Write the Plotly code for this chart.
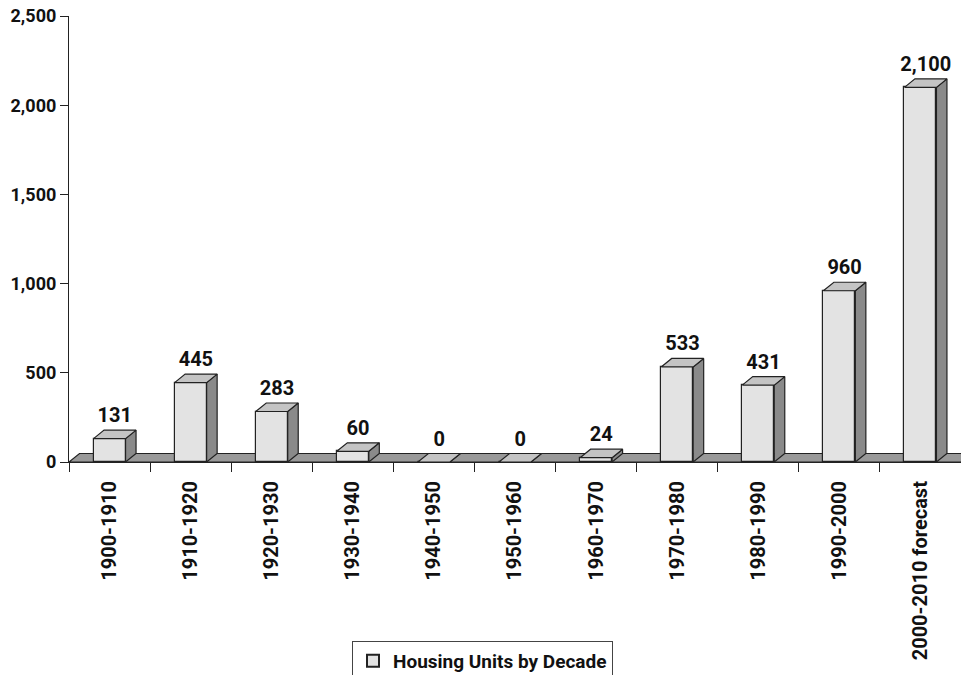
import plotly.graph_objects as go

categories = ["1900-1910", "1910-1920", "1920-1930", "1930-1940", "1940-1950",
              "1950-1960", "1960-1970", "1970-1980", "1980-1990", "1990-2000",
              "2000-2010 forecast"]
units = [131, 445, 283, 60, 0, 0, 24, 533, 431, 960, 2100]
series_name = "Housing Units by Decade"
y_ticks = [0, 500, 1000, 1500, 2000, 2500]

# layout geometry (pixels)
W, H = 961, 675
ML, MR, MT, MB = 69, 0, 16, 213
plot_w = W - ML - MR
plot_h = H - MT - MB
n = len(categories)
x_range = [-0.5, n - 0.5]
y_range = [0, 2500]
px_per_x = plot_w / (x_range[1] - x_range[0])
px_per_y = plot_h / (y_range[1] - y_range[0])

depth_dx = 10.5 / px_per_x      # 3D depth offset, in x units
depth_dy = 8.5 / px_per_y       # 3D depth offset, in y units
bar_w = 32 / px_per_x

FRONT = "#e3e3e3"
TOP = "#c4c4c4"
SIDE = "#8a8a8a"
FLOOR = "#999999"
EDGE = "#222222"
FONT = "Roboto"

xs = list(range(n))

fig = go.Figure()

# front faces
fig.add_trace(go.Bar(
    x=xs, y=units, width=bar_w, name=series_name,
    marker=dict(color=FRONT, line=dict(color=EDGE, width=1.2)),
    hoverinfo="skip", showlegend=True,
))

# side faces
sx, sy = [], []
for x, v in zip(xs, units):
    xr = x + bar_w / 2
    sx += [xr, xr + depth_dx, xr + depth_dx, xr, xr, None]
    sy += [0, depth_dy, v + depth_dy, v, 0, None]
fig.add_trace(go.Scatter(x=sx, y=sy, mode="lines", fill="toself", fillcolor=SIDE,
                         line=dict(color=EDGE, width=1.2), hoverinfo="skip",
                         showlegend=False))

# top faces
tx, ty = [], []
for x, v in zip(xs, units):
    xl = x - bar_w / 2
    xr = x + bar_w / 2
    tx += [xl, xr, xr + depth_dx, xl + depth_dx, xl, None]
    ty += [v, v, v + depth_dy, v + depth_dy, v, None]
fig.add_trace(go.Scatter(x=tx, y=ty, mode="lines", fill="toself", fillcolor=TOP,
                         line=dict(color=EDGE, width=1.2), hoverinfo="skip",
                         showlegend=False))

# value labels
fig.add_trace(go.Scatter(
    x=[x + depth_dx / 2 for x in xs],
    y=[v + depth_dy + 3 / px_per_y for v in units],
    mode="text", text=[f"{v:,}" for v in units], textposition="top center",
    textfont=dict(family=FONT, size=20, color="#111111", weight=700),
    hoverinfo="skip", showlegend=False, cliponaxis=False,
))

# floor
x0, x1 = x_range
fig.add_shape(type="path", xref="x", yref="y", layer="below",
              path=(f"M {x0},0 L {x1},0 L {x1 + depth_dx},{depth_dy} "
                    f"L {x0 + depth_dx},{depth_dy} Z"),
              fillcolor=FLOOR, line=dict(color=EDGE, width=1.2))

fig.update_layout(
    width=W, height=H,
    margin=dict(l=ML, r=MR, t=MT, b=MB, pad=0, autoexpand=False),
    paper_bgcolor="white", plot_bgcolor="white",
    font=dict(family=FONT, size=18, color="#111111", weight=700),
    showlegend=True,
    legend=dict(x=(352 - ML) / plot_w, y=(MT + plot_h - 641) / plot_h,
                xanchor="left", yanchor="top",
                bordercolor="#444444", borderwidth=1, bgcolor="white",
                font=dict(family=FONT, size=19, weight=700),
                itemsizing="constant"),
    xaxis=dict(range=x_range, showgrid=False, zeroline=False, automargin=False,
               showline=True, linecolor=EDGE, linewidth=1.2,
               tickmode="array", tickvals=xs, ticktext=categories,
               ticks="", tickangle=-90, ticklabelstandoff=10,
               tickfont=dict(family=FONT, size=20, weight=700),
               minor=dict(tickmode="array", tickvals=[i - 0.5 for i in range(n + 1)],
                          ticks="outside", ticklen=9, tickcolor=EDGE, tickwidth=1.2,
                          showgrid=False)),
    yaxis=dict(range=y_range, showgrid=False, zeroline=False, automargin=False,
               showline=True, linecolor=EDGE, linewidth=1.2,
               tickmode="array", tickvals=y_ticks, tickformat=",",
               ticks="outside", ticklen=8, tickcolor=EDGE, tickwidth=1.2,
               tickfont=dict(family=FONT, size=18, weight=700)),
    bargap=0,
)

fig.write_html("out.html")
